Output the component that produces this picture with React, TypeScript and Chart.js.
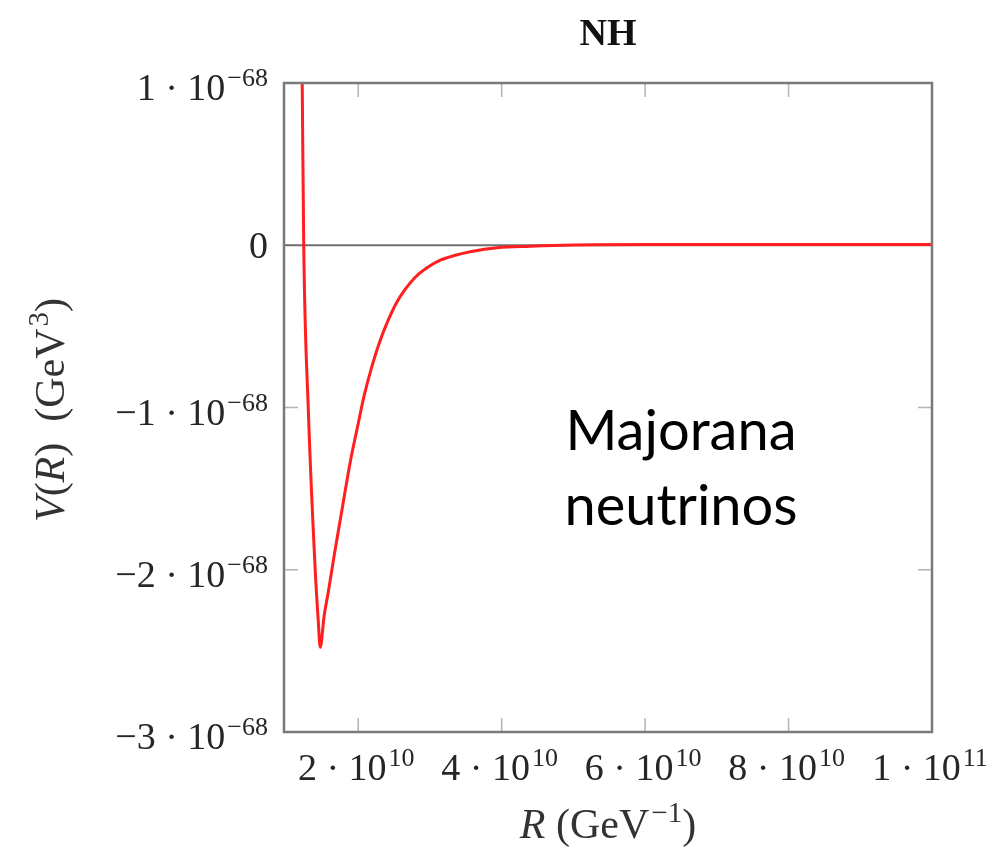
import React, { useEffect, useRef } from "react";
import { Chart, registerables } from "chart.js";

Chart.register(...registerables);

// R in units of 1e10 GeV^-1, V in units of 1e-68 GeV^3
const R_VALUES = [1.219, 1.24, 1.303, 1.4, 1.442, 1.47, 1.526, 1.582, 1.665, 1.777, 1.888, 1.986, 2.084, 2.195, 2.307, 2.418, 2.53, 2.656, 2.795, 2.948, 3.144, 3.353, 3.562, 3.939, 4.399, 5.0, 6.0, 8.0, 10.0];
const V_VALUES = [1.0, 0.0, -1.0, -2.0, -2.31, -2.478, -2.28, -2.139, -1.911, -1.621, -1.337, -1.128, -0.924, -0.74, -0.586, -0.462, -0.357, -0.271, -0.197, -0.142, -0.092, -0.062, -0.04, -0.015, -0.006, 0.002, 0.005, 0.005, 0.004];

const X_TICKS = [2, 4, 6, 8, 10];
const X_TICK_MANTISSA = ["2", "4", "6", "8", "1"];
const X_TICK_EXP = ["10", "10", "10", "10", "11"];

const Y_TICKS = [1, 0, -1, -2, -3];
const Y_TICK_MANTISSA = ["1", "0", "\u22121", "\u22122", "\u22123"];
const Y_TICK_EXP = ["\u221268", "", "\u221268", "\u221268", "\u221268"];

const X_MIN = 0.965;
const X_MAX = 10;
const Y_MIN = -3;
const Y_MAX = 1;

const TITLE = "NH";
const ANNOTATION = ["Majorana", "neutrinos"];

const SERIF = '"Liberation Serif", "DejaVu Serif", serif';
const BASE_PX = 38;
const SUP_PX = 26;

type Seg = { t: string; italic?: boolean; sup?: boolean; bold?: boolean };

function segFont(s: Seg, size = BASE_PX) {
  const px = s.sup ? Math.round(size * SUP_PX / BASE_PX) : size;
  return `${s.bold ? "bold " : ""}${s.italic ? "italic " : ""}${px}px ${SERIF}`;
}

function segsWidth(ctx: CanvasRenderingContext2D, segs: Seg[], size = BASE_PX) {
  let w = 0;
  for (const s of segs) {
    ctx.font = segFont(s, size);
    w += ctx.measureText(s.t).width + (s.sup ? 2 : 0);
  }
  return w;
}

function drawSegs(ctx: CanvasRenderingContext2D, segs: Seg[], x: number, baseline: number, size = BASE_PX) {
  let cx = x;
  ctx.textBaseline = "alphabetic";
  ctx.textAlign = "left";
  for (const s of segs) {
    ctx.font = segFont(s, size);
    const y = s.sup ? baseline - Math.round(size * 0.37) : baseline;
    ctx.fillText(s.t, cx + (s.sup ? 2 : 0), y);
    cx += ctx.measureText(s.t).width + (s.sup ? 2 : 0);
  }
}

function sciSegs(m: string, e: string): Seg[] {
  if (!e) return [{ t: m }];
  return [{ t: m + " \u00b7 10" }, { t: e, sup: true }];
}

const framePlugin = {
  id: "pgfFrame",
  beforeDatasetsDraw(chart: any) {
    const { ctx, chartArea: a, scales } = chart;
    const xs = scales.x;
    const ys = scales.y;
    ctx.save();
    ctx.strokeStyle = "#b4b4b4";
    ctx.lineWidth = 1.5;
    const TL = 14;
    X_TICKS.forEach((v) => {
      const px = xs.getPixelForValue(v);
      ctx.beginPath();
      ctx.moveTo(px, a.bottom);
      ctx.lineTo(px, a.bottom - TL);
      ctx.moveTo(px, a.top);
      ctx.lineTo(px, a.top + TL);
      ctx.stroke();
    });
    Y_TICKS.forEach((v) => {
      const py = ys.getPixelForValue(v);
      ctx.beginPath();
      ctx.moveTo(a.left, py);
      ctx.lineTo(a.left + TL, py);
      ctx.moveTo(a.right, py);
      ctx.lineTo(a.right - TL, py);
      ctx.stroke();
    });
    const y0 = ys.getPixelForValue(0);
    ctx.strokeStyle = "#6f6f6f";
    ctx.lineWidth = 2;
    ctx.beginPath();
    ctx.moveTo(a.left, y0);
    ctx.lineTo(a.right, y0);
    ctx.stroke();
    ctx.restore();
  },
  afterDraw(chart: any) {
    const { ctx, chartArea: a, scales } = chart;
    const xs = scales.x;
    const ys = scales.y;
    ctx.save();
    ctx.strokeStyle = "#7a7a7a";
    ctx.lineWidth = 2.5;
    ctx.strokeRect(a.left, a.top, a.right - a.left, a.bottom - a.top);

    ctx.fillStyle = "#262626";
    X_TICKS.forEach((v, i) => {
      const segs = sciSegs(X_TICK_MANTISSA[i], X_TICK_EXP[i]);
      const w = segsWidth(ctx, segs);
      const px = xs.getPixelForValue(v);
      drawSegs(ctx, segs, px - w / 2 - 2, a.bottom + 48);
    });
    Y_TICKS.forEach((v, i) => {
      const segs = sciSegs(Y_TICK_MANTISSA[i], Y_TICK_EXP[i]);
      const w = segsWidth(ctx, segs);
      const py = ys.getPixelForValue(v);
      const off = Y_TICK_EXP[i] ? 17 : 13;
      drawSegs(ctx, segs, a.left - 16 - w, py + off);
    });
    const cx = (a.left + a.right) / 2;
    const tSegs: Seg[] = [{ t: TITLE, bold: true }];
    const tw = segsWidth(ctx, tSegs, 38);
    ctx.fillStyle = "#111";
    drawSegs(ctx, tSegs, cx - tw / 2, 45, 38);

    ctx.fillStyle = "#333";
    const TS = 42;
    const xt: Seg[] = [{ t: "R", italic: true }, { t: " (GeV" }, { t: "\u22121", sup: true }, { t: ")" }];
    const xw = segsWidth(ctx, xt, TS);
    drawSegs(ctx, xt, cx - xw / 2, a.bottom + 106, TS);
    const yt: Seg[] = [{ t: "V", italic: true }, { t: "(" }, { t: "R", italic: true }, { t: ")  (GeV" }, { t: "3", sup: true }, { t: ")" }];
    const yw = segsWidth(ctx, yt, TS);
    ctx.save();
    ctx.translate(64, 410);
    ctx.rotate(-Math.PI / 2);
    drawSegs(ctx, yt, -yw / 2, 0, TS);
    ctx.restore();

    ctx.fillStyle = "#000";
    ctx.font = '56px Lato, "Open Sans", sans-serif';
    ctx.textAlign = "center";
    ctx.textBaseline = "alphabetic";
    const ax = xs.getPixelForValue(6.5);
    ctx.fillText(ANNOTATION[0], ax, 450);
    ctx.fillText(ANNOTATION[1], ax, 525);
    ctx.restore();
  },
};

export default function App() {
  const ref = useRef<HTMLCanvasElement | null>(null);
  useEffect(() => {
    if (!ref.current) return;
    const chart = new Chart(ref.current, {
      type: "line",
      data: {
        datasets: [
          {
            data: R_VALUES.map((r, i) => ({ x: r, y: V_VALUES[i] })),
            borderColor: "#ff1f1f",
            borderWidth: 3,
            pointRadius: 0,
            fill: false,
            cubicInterpolationMode: "monotone",
          },
        ],
      },
      options: {
        responsive: false,
        animation: false,
        devicePixelRatio: 1,
        layout: { padding: { left: 284, top: 83, right: 57, bottom: 119 } },
        plugins: { legend: { display: false }, tooltip: { enabled: false }, title: { display: false } },
        scales: {
          x: {
            type: "linear",
            min: X_MIN,
            max: X_MAX,
            ticks: { display: false },
            grid: { display: false, drawTicks: false },
            border: { display: false },
            afterBuildTicks: (s: any) => {
              s.ticks = X_TICKS.map((v) => ({ value: v }));
            },
          },
          y: {
            type: "linear",
            min: Y_MIN,
            max: Y_MAX,
            ticks: { display: false },
            grid: { display: false, drawTicks: false },
            border: { display: false },
            afterBuildTicks: (s: any) => {
              s.ticks = Y_TICKS.map((v) => ({ value: v }));
            },
          },
        },
      } as any,
      plugins: [framePlugin],
    });
    return () => chart.destroy();
  }, []);
  return (
    <div style={{ position: "fixed", left: 0, top: 0, width: 989, height: 851, background: "#fff" }}>
      <canvas ref={ref} width={989} height={851} style={{ width: 989, height: 851, display: "block" }} />
    </div>
  );
}
